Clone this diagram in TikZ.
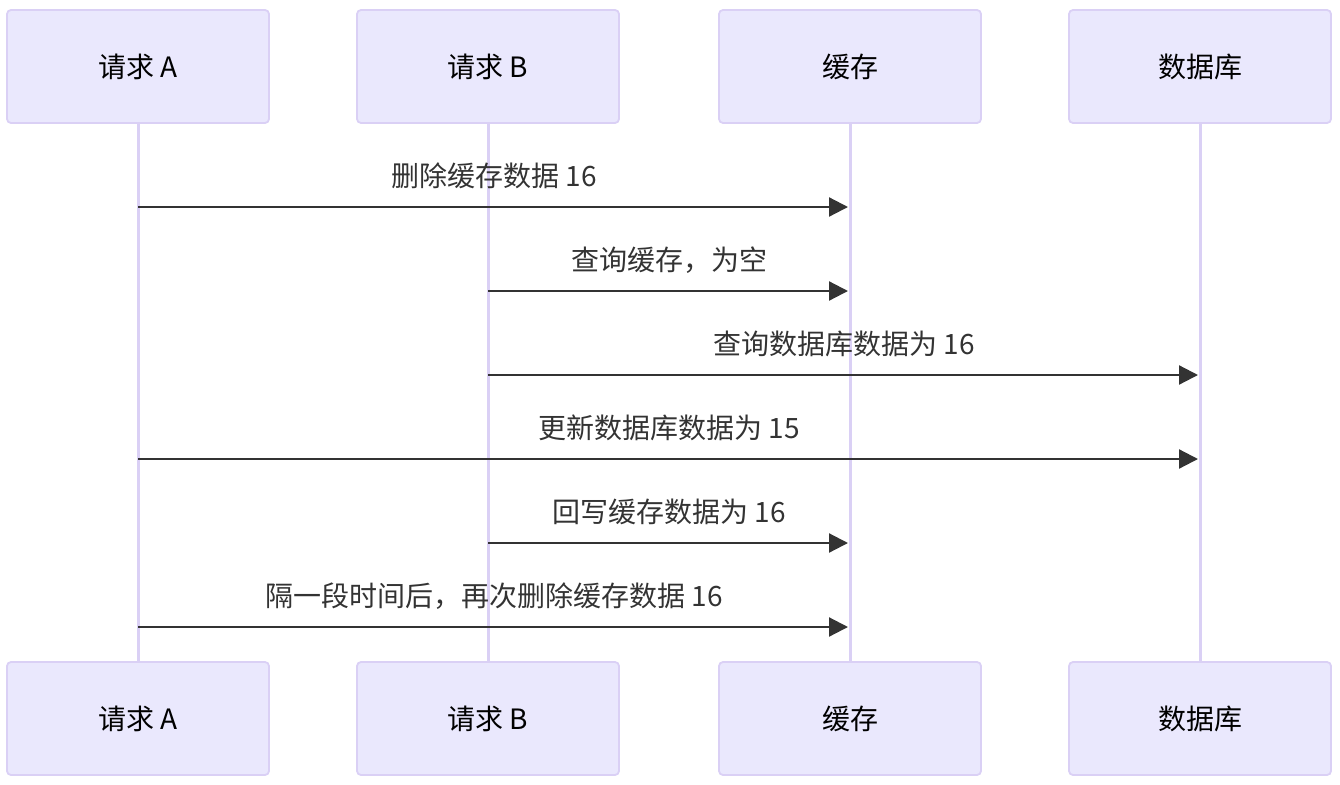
\documentclass[tikz,border=0pt]{standalone}
\usepackage{fontspec}
\setmainfont{Noto Sans CJK SC}
\usetikzlibrary{arrows.meta,calc}
\definecolor{boxfill}{HTML}{EAE8FD}
\definecolor{boxline}{HTML}{DAD0F5}
\definecolor{msgline}{HTML}{333333}

\begin{document}
\begin{tikzpicture}[x=1pt,y=-1pt,
  actor/.style={draw=boxline, fill=boxfill, line width=1.8pt, rounded corners=4pt,
    minimum width=262pt, minimum height=113pt, inner sep=0pt,
    font=\fontsize{28}{32}\selectfont},
  life/.style={draw=boxline, line width=3pt},
  msg/.style={draw=msgline, line width=2.2pt, shorten >=2pt, -{Triangle[length=19pt,width=19pt]}},
  lbl/.style={text=msgline, inner sep=0pt, font=\fontsize{28}{32}\selectfont}]
\useasboundingbox (0,0) rectangle (1340,784);

% participants, top and bottom
\node[actor] (tA) at (138,66.5)  {请求 A};
\node[actor] (tB) at (488,66.5)  {请求 B};
\node[actor] (tC) at (850,66.5)  {缓存};
\node[actor] (tD) at (1200,66.5) {数据库};

\node[actor] (bA) at (138,718.5)  {请求 A};
\node[actor] (bB) at (488,718.5)  {请求 B};
\node[actor] (bC) at (850,718.5)  {缓存};
\node[actor] (bD) at (1200,718.5) {数据库};

% lifelines
\foreach \p in {A,B,C,D}
    \draw[life] (t\p.south) -- (b\p.north);

% message end points on the lifelines
\coordinate (a1) at (138,207);  \coordinate (c1) at (850,207);
\coordinate (b2) at (488,291);  \coordinate (c2) at (850,291);
\coordinate (b3) at (488,375);  \coordinate (d3) at (1200,375);
\coordinate (a4) at (138,459);  \coordinate (d4) at (1200,459);
\coordinate (b5) at (488,543);  \coordinate (c5) at (850,543);
\coordinate (a6) at (138,627);  \coordinate (c6) at (850,627);

\draw[msg] (a1) -- (c1);
\draw[msg] (b2) -- (c2);
\draw[msg] (b3) -- (d3);
\draw[msg] (a4) -- (d4);
\draw[msg] (b5) -- (c5);
\draw[msg] (a6) -- (c6);

\node[lbl] (m1) at ($(a1)!0.5!(c1)+(0,-31)$) {删除缓存数据 16};
\node[lbl] (m2) at ($(b2)!0.5!(c2)+(0,-31)$) {查询缓存，为空};
\node[lbl] (m3) at ($(b3)!0.5!(d3)+(0,-31)$) {查询数据库数据为 16};
\node[lbl] (m4) at ($(a4)!0.5!(d4)+(0,-31)$) {更新数据库数据为 15};
\node[lbl] (m5) at ($(b5)!0.5!(c5)+(0,-31)$) {回写缓存数据为 16};
\node[lbl] (m6) at ($(a6)!0.5!(c6)+(0,-31)$) {隔一段时间后，再次删除缓存数据 16};

\end{tikzpicture}
\end{document}
